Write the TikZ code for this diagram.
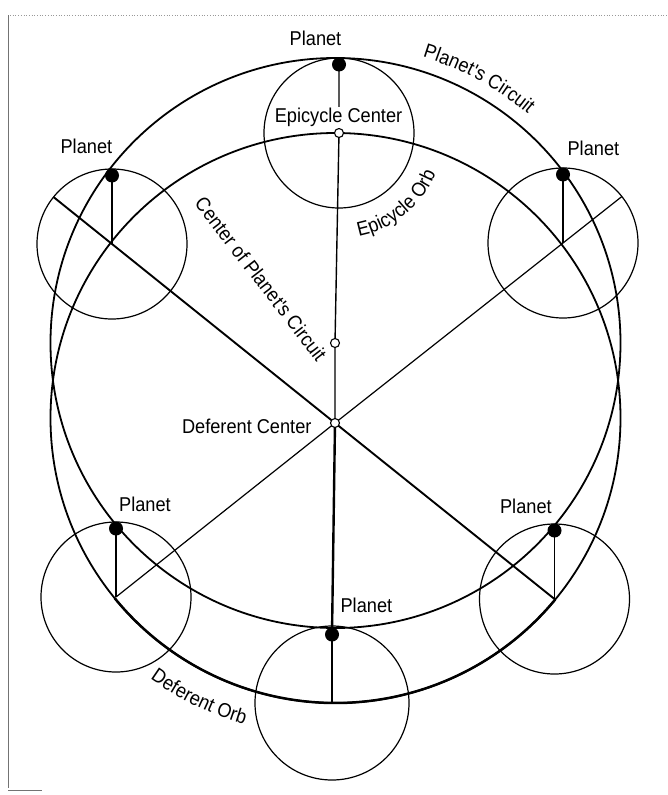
\documentclass[tikz,border=0pt]{standalone}
\usepackage{fontspec}
\newfontfamily\lblfont[FakeStretch=0.91]{Liberation Sans}
\newcommand{\lblsize}{\lblfont\fontsize{20}{24}\selectfont}
\usetikzlibrary{decorations.text,calc}
\begin{document}
\begin{tikzpicture}[x=1pt,y=-1pt,
  lbl/.style={font=\lblsize, inner sep=0pt},
  epi/.style={line width=1.2pt},
  orbit/.style={line width=1.8pt},
  heavyorbit/.style={line width=2.5pt},
  thickradial/.style={line width=1.9pt},
  thinradial/.style={line width=1.2pt},
  midradial/.style={line width=1.4pt},
  heavyradial/.style={line width=2.4pt},
  vert/.style={line width=1.5pt},
  opendot/.style={circle, draw, fill=white, line width=1.1pt, inner sep=0pt, minimum size=9pt},
  planetdot/.style={circle, fill=black, inner sep=0pt, minimum size=14pt},
  scan/.style={black!55, line width=0.7pt}
]
\useasboundingbox (0,0) rectangle (668,795);
\fill[white] (0,0) rectangle (668,795);

% scan frame remnants
\draw[scan] (8,15) -- (8,788);
\draw[scan, dotted, black!40] (10,15) -- (668,15);
\draw[scan] (8,790) -- (42,790);

% key points
\coordinate (O)  at (335.5,418);   % centre of deferent orb circle
\coordinate (Op) at (335.5,343);   % centre of planet's circuit circle
\coordinate (D)  at (335,423);
\coordinate (E)  at (335,343);
\coordinate (C1) at (339,133);
\coordinate (C2) at (112,244);
\coordinate (C3) at (563,243);
\coordinate (C4) at (116,597);
\coordinate (C5) at (554.5,599);
\coordinate (C6) at (332,703);
\foreach \i in {1,...,6} { \coordinate (P\i) at ($(C\i)+(0,-68.5)$); }
\coordinate (LTedge) at ($(C2)!-75pt!(D)$);
\coordinate (RTedge) at ($(C3)!-75pt!(D)$);

% big circles
\draw[orbit] (Op) circle[radius=285];
\draw[orbit] (O) circle[radius=285];
\draw[heavyorbit] ($(O)+(140.8:285)$) arc[start angle=140.8, end angle=39.6, radius=285];

% epicycles
\foreach \i in {1,...,5} { \draw[epi] (C\i) circle[radius=75]; }
\draw[epi] (C6) circle[radius=77];

% radial lines
\draw[thickradial] (LTedge) -- (C2) -- (D) -- (C5);
\draw[thinradial] (RTedge) -- (C3) -- (D) -- (C4);
\draw[midradial] (P1) -- (C1) -- (E) -- (D);
\draw[heavyradial] (D) -- (P6);
\draw[vert] (P6) -- (C6);
\foreach \i in {2,...,5} { \draw[vert] (C\i) -- (P\i); }

% points
\foreach \i in {1,...,6} { \node[planetdot] (p\i) at (P\i) {}; }
\node[opendot] (c1) at (C1) {};
\node[opendot, minimum width=8pt, minimum height=9pt] (e) at (E) {};
\node[opendot] (d) at (D) {};

% labels
\node[lbl, anchor=base] (lp1) at (315.5,45) {Planet};
\node[lbl, anchor=base, fill=white, inner ysep=1pt] (lec) at (338.5,122.7) {Epicycle Center};
\node[lbl, anchor=base] (lp2) at (86.4,153.3) {Planet};
\node[lbl, anchor=base] (lp3) at (593.4,155) {Planet};
\node[lbl, anchor=base] (lp4) at (145,511.7) {Planet};
\node[lbl, anchor=base] (lp5) at (525.9,513.3) {Planet};
\node[lbl, anchor=base] (lp6) at (366.4,612.3) {Planet};
\node[lbl, anchor=base east] (ldc) at (311.7,433.3) {Deferent Center};
\node[lbl, rotate=-52.3] (lcc) at (261,279) {Center of Planet's Circuit};

% curved labels
\path[decorate, decoration={text along path, text align=center,
  text={|\lblsize|Planet's Circuit}}]
  ($(Op)+(-80:299)$) arc[start angle=-80, end angle=-43, radius=299];
\path[decorate, decoration={text along path, text align=center,
  text={|\lblsize|Epicycle Orb}}]
  ($(C1)+(90:105)$) arc[start angle=90, end angle=12, radius=105];
\path[decorate, decoration={text along path, text align=center,
  text={|\lblsize|Deferent Orb}}]
  ($(O)+(135:320)$) arc[start angle=135, end angle=97, radius=320];
\end{tikzpicture}
\end{document}
